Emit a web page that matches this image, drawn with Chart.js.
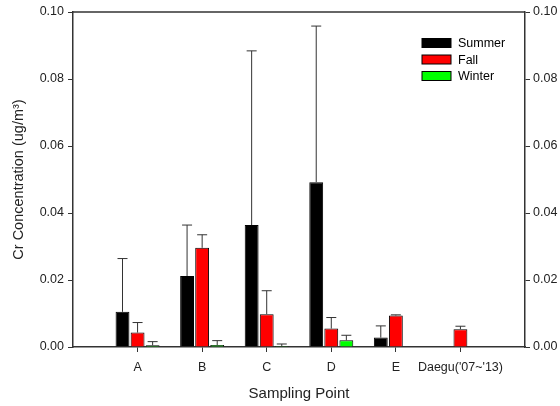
<!DOCTYPE html>
<html>
<head>
<meta charset="utf-8">
<script src="https://cdn.jsdelivr.net/npm/chart.js@4/dist/chart.umd.min.js"></script>
<style>
  body { margin: 0; background: #fff; }
</style>
</head>
<body>
<canvas id="myChart" width="560" height="406"></canvas>
<script>
var categories = ['A', 'B', 'C', 'D', 'E', "Daegu('07~'13)"];
var summer = [0.0105, 0.0212, 0.0364, 0.0492, 0.0028, null];
var summerErr = [0.0159, 0.0152, 0.0520, 0.0466, 0.0035, null];
var fall = [0.0043, 0.0296, 0.0098, 0.0055, 0.0094, 0.0053];
var fallErr = [0.0030, 0.0039, 0.0070, 0.0033, 0.0002, 0.0009];
var winter = [0.0005, 0.0006, 0.0003, 0.0020, null, null];
var winterErr = [0.0011, 0.0013, 0.0006, 0.0015, null, null];
var yTicks = [0, 0.02, 0.04, 0.06, 0.08, 0.10];

// empty slots at both ends so the categories sit at 1..6 of 0..7
function pad(arr) {
    return [null].concat(arr, [null]);
}

var font = 'Liberation Sans, Arial, sans-serif';
var ink = '#222';

var errorBars = {
    id: 'errorBars',
    afterDatasetsDraw: function (chart) {
        var ctx = chart.ctx;
        var y = chart.scales.y;
        ctx.save();
        ctx.strokeStyle = '#333';
        ctx.lineWidth = 1;
        chart.data.datasets.forEach(function (ds, i) {
            var meta = chart.getDatasetMeta(i);
            meta.data.forEach(function (bar, j) {
                var v = ds.data[j];
                var e = ds.errors[j];
                if (v == null || e == null) return;
                var top = y.getPixelForValue(v + e);
                var cap = 5;
                ctx.beginPath();
                ctx.moveTo(bar.x, bar.y);
                ctx.lineTo(bar.x, top);
                ctx.moveTo(bar.x - cap, top);
                ctx.lineTo(bar.x + cap, top);
                ctx.stroke();
            });
        });
        ctx.restore();
    }
};

var frameAndLegend = {
    id: 'frameAndLegend',
    afterDraw: function (chart) {
        var ctx = chart.ctx;
        var a = chart.chartArea;
        ctx.save();
        ctx.strokeStyle = '#333';
        ctx.lineWidth = 1.5;
        ctx.beginPath();
        ctx.moveTo(a.left, a.top);
        ctx.lineTo(a.right, a.top);
        ctx.stroke();

        ctx.font = '12.5px ' + font;
        ctx.textBaseline = 'middle';
        chart.data.datasets.forEach(function (ds, i) {
            var cy = 43 + i * 16.5;
            ctx.fillStyle = ds.backgroundColor;
            ctx.fillRect(422, cy - 4.5, 29, 9);
            ctx.strokeStyle = '#000';
            ctx.lineWidth = 1;
            ctx.strokeRect(422, cy - 4.5, 29, 9);
            ctx.fillStyle = '#000';
            ctx.fillText(ds.label, 458, cy + 1);
        });
        ctx.restore();
    }
};

var ctx = document.getElementById('myChart').getContext('2d');
var myChart = new Chart(ctx, {
    type: 'bar',
    data: {
        labels: pad(categories).map(function (c) { return c || ''; }),
        datasets: [{
            label: 'Summer',
            data: pad(summer),
            errors: pad(summerErr),
            backgroundColor: '#000000',
            borderColor: '#000000',
            borderWidth: 1,
        }, {
            label: 'Fall',
            data: pad(fall),
            errors: pad(fallErr),
            backgroundColor: '#ff0000',
            borderColor: '#000000',
            borderWidth: 1,
        }, {
            label: 'Winter',
            data: pad(winter),
            errors: pad(winterErr),
            backgroundColor: '#00ff00',
            borderColor: '#000000',
            borderWidth: 1,
        }],
    },
    options: {
        responsive: false,
        animation: false,
        categoryPercentage: 0.7,
        barPercentage: 0.92,
        layout: {
            padding: { top: 12, left: 0, right: 0, bottom: 0 },
        },
        plugins: {
            legend: { display: false },
            tooltip: { enabled: false },
        },
        scales: {
            x: {
                offset: false,
                afterFit: function (s) { s.height = 59; },
                grid: {
                    offset: false,
                    drawOnChartArea: false,
                    tickLength: 5,
                    color: function (c) {
                        return (c.index === 0 || c.index === categories.length + 1) ? 'transparent' : '#333';
                    },
                },
                border: { color: '#333', width: 1.5 },
                ticks: {
                    color: ink,
                    padding: 8,
                    maxRotation: 0,
                    autoSkip: false,
                    font: { family: font, size: 12.5 },
                },
                title: {
                    display: true,
                    text: 'Sampling Point',
                    color: ink,
                    padding: { top: 0, bottom: 3 },
                    font: { family: font, size: 15 },
                },
            },
            y: {
                position: 'left',
                min: 0,
                max: 0.1,
                afterFit: function (s) { s.width = 73; },
                afterBuildTicks: function (s) {
                    s.ticks = yTicks.map(function (v) { return { value: v }; });
                },
                grid: { drawOnChartArea: false, tickLength: 5, color: '#333' },
                border: { color: '#333', width: 1.5 },
                ticks: {
                    color: ink,
                    padding: 4,
                    font: { family: font, size: 12.5 },
                    callback: function (v) { return v.toFixed(2); },
                },
                title: {
                    display: true,
                    text: 'Cr Concentration (ug/m³)',
                    color: ink,
                    padding: { top: 10, bottom: 0 },
                    font: { family: font, size: 14.5 },
                },
            },
            y2: {
                position: 'right',
                min: 0,
                max: 0.1,
                afterFit: function (s) { s.width = 35; },
                afterBuildTicks: function (s) {
                    s.ticks = yTicks.map(function (v) { return { value: v }; });
                },
                grid: { drawOnChartArea: false, tickLength: 5, color: '#333' },
                border: { color: '#333', width: 1.5 },
                ticks: {
                    color: ink,
                    padding: 3,
                    font: { family: font, size: 12.5 },
                    callback: function (v) { return v.toFixed(2); },
                },
            },
        },
    },
    plugins: [errorBars, frameAndLegend],
});
</script>
</body>
</html>
